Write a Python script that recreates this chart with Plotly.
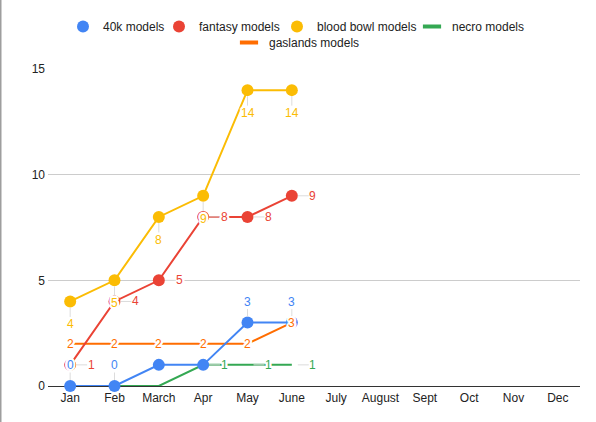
import plotly.graph_objects as go

months = ["Jan", "Feb", "March", "Apr", "May", "June",
          "July", "August", "Sept", "Oct", "Nov", "Dec"]
data_months = months[:6]

k40 = [0, 0, 1, 1, 3, 3]
fantasy = [1, 4, 5, 8, 8, 9]
bloodbowl = [4, 5, 8, 9, 14, 14]
necro = [0, 0, 0, 1, 1, 1]
gaslands = [2, 2, 2, 2, 2, 3]

k40_show = [True, True, False, False, True, True]
fantasy_show = [True] * 6
bloodbowl_show = [True] * 6
necro_show = [False, False, False, True, True, True]
gaslands_show = [True] * 6

BLUE = "#4285F4"
RED = "#EA4335"
YELLOW = "#FBBC04"
GREEN = "#34A853"
ORANGE = "#FF6D01"
FONT = "Arial, Liberation Sans, sans-serif"
W, H = 596, 422

fig = go.Figure()

# draw order (later on top)
series = [
    ("gaslands models", gaslands, ORANGE, "lines"),
    ("necro models", necro, GREEN, "lines"),
    ("blood bowl models", bloodbowl, YELLOW, "lines+markers"),
    ("fantasy models", fantasy, RED, "lines+markers"),
    ("40k models", k40, BLUE, "lines+markers"),
]
for name, vals, col, mode in series:
    fig.add_trace(go.Scatter(
        x=data_months, y=vals, name=name, mode=mode,
        line=dict(color=col, width=2),
        marker=dict(color=col, size=12),
        cliponaxis=False, showlegend=False, hoverinfo="x+y+name"))

# legend entries: (name, colour, symbol, legend id, left px, top px)
legend_items = [
    ("40k models", BLUE, "circle", "legend", 63, 12),
    ("fantasy models", RED, "circle", "legend2", 159, 12),
    ("blood bowl models", YELLOW, "circle", "legend3", 277, 12),
    ("necro models", GREEN, "line-ew", "legend4", 412, 12),
    ("gaslands models", ORANGE, "line-ew", "legend5", 229, 28),
]
legend_layout = {}
for name, col, sym, lg, lx, ty in legend_items:
    if sym == "circle":
        mk = dict(color=col, size=12, symbol="circle")
    else:
        mk = dict(color=col, size=13, symbol="line-ew", line=dict(color=col, width=4))
    fig.add_trace(go.Scatter(x=[None], y=[None], name=name, mode="markers",
                             marker=mk, legend=lg, showlegend=True))
    legend_layout[lg] = dict(
        orientation="h", xref="container", yref="container",
        x=lx / W, xanchor="left", y=1 - ty / H, yanchor="top",
        font=dict(family=FONT, size=12, color="#222222"),
        bgcolor="rgba(0,0,0,0)")

HALO = ("white 1px 0px 0px, white -1px 0px 0px, white 0px 1px 0px, white 0px -1px 0px, "
        "white 1px 1px 0px, white -1px -1px 0px, white 1px -1px 0px, white -1px 1px 0px, "
        "white 2px 0px 0px, white -2px 0px 0px, white 0px 2px 0px, white 0px -2px 0px, "
        "white 2px 1px 0px, white -2px 1px 0px, white 2px -1px 0px, white -2px -1px 0px, "
        "white 1px 2px 0px, white -1px 2px 0px, white 1px -2px 0px, white -1px -2px 0px")

annotations = []
label_specs = [
    (k40, k40_show, BLUE, 0, -21),
    (fantasy, fantasy_show, RED, 21, 0),
    (bloodbowl, bloodbowl_show, YELLOW, 0, 23),
    (necro, necro_show, GREEN, 21, 0),
]
for vals, show, col, ax, ay in label_specs:
    for m, v, s in zip(data_months, vals, show):
        if not s:
            continue
        annotations.append(dict(
            x=m, y=v, xref="x", yref="y", text=str(v),
            showarrow=True, ax=ax, ay=ay, arrowhead=0, arrowwidth=1,
            arrowcolor="#dcdcdc", standoff=6,
            xanchor="center", yanchor="middle", borderpad=0,
            font=dict(family=FONT, size=12, color=col, shadow=HALO)))
for m, v, s in zip(data_months, gaslands, gaslands_show):
    if not s:
        continue
    annotations.append(dict(
        x=m, y=v, xref="x", yref="y", text=str(v), showarrow=False,
        xanchor="center", yanchor="middle", borderpad=0,
        font=dict(family=FONT, size=12, color=ORANGE, shadow=HALO)))

fig.update_layout(
    width=W, height=H,
    margin=dict(l=48, r=16, t=69, b=36, autoexpand=False),
    paper_bgcolor="white", plot_bgcolor="white",
    font=dict(family=FONT, size=12, color="#222222"),
    annotations=annotations,
    xaxis=dict(type="category", categoryorder="array", categoryarray=months,
               range=[-0.5, len(months) - 0.5], showgrid=False, zeroline=False,
               showline=False, ticks="", ticklabelstandoff=3,
               tickfont=dict(size=12, color="#222222")),
    yaxis=dict(range=[0, 15], dtick=5, tick0=0, showgrid=True, gridcolor="#cccccc",
               gridwidth=1, zeroline=True, zerolinecolor="#333333", zerolinewidth=1,
               showline=False, ticks="", ticklabelstandoff=2,
               tickfont=dict(size=12, color="#222222")),
    shapes=[dict(type="line", xref="paper", yref="paper",
                 x0=-47.5 / 532, x1=-47.5 / 532, y0=-36 / 317, y1=386 / 317,
                 line=dict(color="#9e9e9e", width=2))],
    hovermode="closest",
    **legend_layout,
)

fig.write_html("out.html")
